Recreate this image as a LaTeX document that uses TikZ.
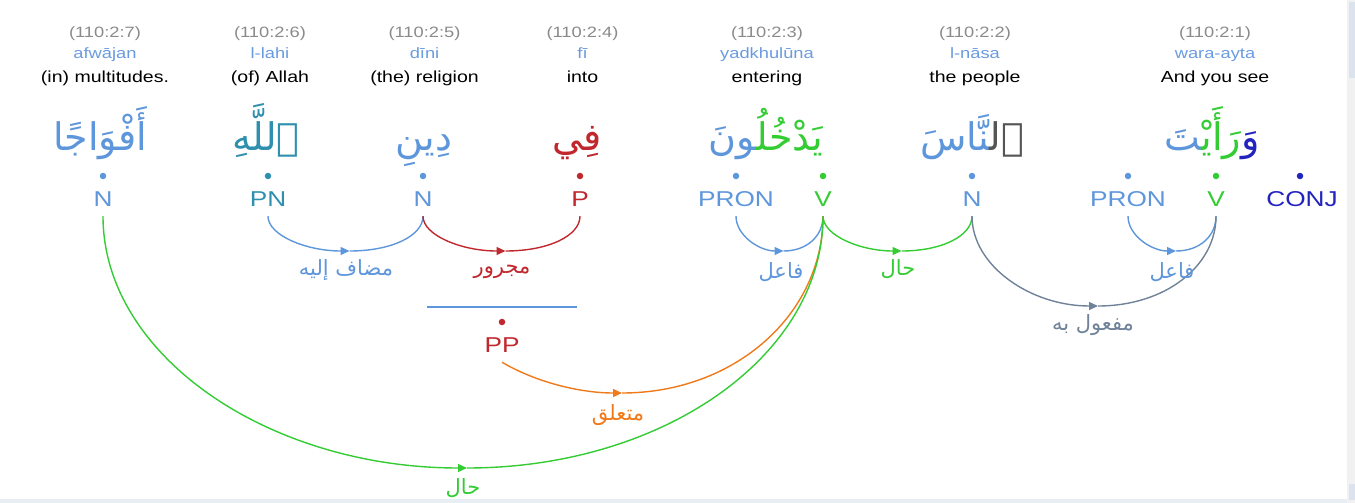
\documentclass[tikz,border=0pt]{standalone}
\usepackage{fontspec}
\setmainfont{Liberation Sans}[FakeStretch=1.22]
\newfontfamily\arabicfont[Script=Arabic]{DejaVu Sans}
\TeXXeTstate=1
\usetikzlibrary{arrows.meta}
\definecolor{locgrey}{HTML}{8A8A8A}
\definecolor{trblue}{HTML}{6A9BE0}
\definecolor{nblue}{HTML}{5E96DB}
\definecolor{pnteal}{HTML}{2E90AE}
\definecolor{pred}{HTML}{C0282E}
\definecolor{vgreen}{HTML}{33CC33}
\definecolor{conjblue}{HTML}{2323C0}
\definecolor{detgrey}{HTML}{555555}
\definecolor{slate}{HTML}{6F8299}
\definecolor{orng}{HTML}{F07A1A}
\definecolor{scrollbg}{HTML}{F1F1F1}
\definecolor{scrollthumb}{HTML}{DCE3EE}
\definecolor{bandbg}{HTML}{E9EEF4}
\newcommand{\zwj}{^^^^200d}
\begin{document}
\begin{tikzpicture}[x=1pt,y=-1pt,
  loc/.style={font=\fontsize{15}{17}\selectfont, text=locgrey, inner sep=0pt, anchor=base},
  tr/.style={font=\fontsize{15}{17}\selectfont, text=trblue, inner sep=0pt, anchor=base},
  en/.style={font=\fontsize{16}{18}\selectfont, text=black, inner sep=0pt, anchor=base},
  ar/.style={font=\arabicfont\fontsize{38}{44}\selectfont, inner sep=0pt, anchor=base},
  posl/.style={font=\fontsize{21.5}{24}\selectfont, inner sep=0pt, text height=15pt, text depth=10pt, anchor=base},
  dot/.style={circle, inner sep=0pt, minimum size=6.5pt},
  arc/.style={line width=1.4pt},
  tip/.style={-{Triangle[length=9pt,width=8pt]}},
  lab/.style={font=\arabicfont\fontsize{21}{24}\selectfont, inner sep=0pt},
]
\useasboundingbox (0,0) rectangle (1355,503);
% window chrome
\fill[bandbg] (0,499) rectangle (1347,503);
\fill[scrollbg] (1347,0) rectangle (1355,503);
\fill[scrollthumb] (1349,2) rectangle (1355,78);
\fill[scrollthumb] (1349,484) rectangle (1355,500);

% header texts
\node[loc] (l7) at (105,38) {(110:2:7)};
\node[loc] (l6) at (270,38) {(110:2:6)};
\node[loc] (l5) at (424.5,38) {(110:2:5)};
\node[loc] (l4) at (582.5,38) {(110:2:4)};
\node[loc] (l3) at (767,38) {(110:2:3)};
\node[loc] (l2) at (975,38) {(110:2:2)};
\node[loc] (l1) at (1215,38) {(110:2:1)};

\node[tr] (t7) at (105,59) {afwājan};
\node[tr] (t6) at (270,59) {l-lahi};
\node[tr] (t5) at (424.5,59) {dīni};
\node[tr] (t4) at (582.5,59) {fī};
\node[tr] (t3) at (767,59) {yadkhulūna};
\node[tr] (t2) at (975,59) {l-nāsa};
\node[tr] (t1) at (1215,59) {wara-ayta};

\node[en] (e7) at (105,82) {(in) multitudes.};
\node[en] (e6) at (270,82) {(of) Allah};
\node[en] (e5) at (424.5,82) {(the) religion};
\node[en] (e4) at (582.5,82) {into};
\node[en] (e3) at (767,82) {entering};
\node[en] (e2) at (975,82) {the people};
\node[en] (e1) at (1215,82) {And you see};

% Arabic words
\node[ar, text=nblue] (w7) at (100,150) {\beginR أَفْوَاجًا\endR};
\node[ar, text=pnteal] (w6) at (266,150) {\beginR ٱللَّهِ\endR};
\node[ar, text=nblue] (w5) at (424,150) {\beginR دِينِ\endR};
\node[ar, text=pred] (w4) at (577,150) {\beginR فِي\endR};
\node[ar] (w3) at (766,150) {\textcolor{nblue}{\zwj ونَ}\textcolor{vgreen}{يَدْخُلُ\zwj}};
\node[ar] (w2) at (972,150) {\textcolor{nblue}{\zwj نَّاسَ}\textcolor{detgrey}{ٱل\zwj}};
\node[ar] (w1) at (1212,150) {\textcolor{nblue}{\zwj تَ}\textcolor{vgreen}{رَأَيْ\zwj}\textcolor{conjblue}{وَ}};

% dots
\node[dot, fill=nblue] (d7) at (103,176) {};
\node[dot, fill=pnteal] (d6) at (268,176) {};
\node[dot, fill=nblue] (d5) at (423,176) {};
\node[dot, fill=pred] (d4) at (580,176) {};
\node[dot, fill=nblue] (d3p) at (736,176) {};
\node[dot, fill=vgreen] (d3v) at (823,176) {};
\node[dot, fill=nblue] (d2) at (972,176) {};
\node[dot, fill=nblue] (d1p) at (1128,176) {};
\node[dot, fill=vgreen] (d1v) at (1216,176) {};
\node[dot, fill=conjblue] (d1c) at (1300,176) {};

% POS labels
\node[posl, text=nblue] (n7) at (103,206) {N};
\node[posl, text=pnteal] (pn6) at (268,206) {PN};
\node[posl, text=nblue] (n5) at (423,206) {N};
\node[posl, text=pred] (p4) at (580,206) {P};
\node[posl, text=nblue] (pron3) at (736,206) {PRON};
\node[posl, text=vgreen] (v3) at (823,206) {V};
\node[posl, text=nblue] (n2) at (972,206) {N};
\node[posl, text=nblue] (pron1) at (1128,206) {PRON};
\node[posl, text=vgreen] (v1) at (1216,206) {V};
\node[posl, text=conjblue] (conj1) at (1302,206) {CONJ};

% PP
\draw[nblue, line width=1.2pt] (427,307) -- (577,307);
\node[dot, fill=pred] (dpp) at (502,322) {};
\node[posl, text=pred] (pp) at (502,352) {PP};

% arc bottoms
\coordinate (m1) at (349.5,251);
\coordinate (m2) at (505.5,251);
\coordinate (m3) at (783.5,251);
\coordinate (m4) at (901.5,251);
\coordinate (m5) at (1176,251);
\coordinate (m6) at (1098,306);
\coordinate (m7) at (622,393);
\coordinate (m8) at (467,468);

% mudaf ilayhi
\draw[arc, nblue, tip] (pn6.south) .. controls +(0,19.3) and +(-42.8,0) .. (m1);
\draw[arc, nblue] (m1) .. controls +(42.8,0) and +(0,19.3) .. (n5.south);
% majrur
\draw[arc, pred, tip] (n5.south) .. controls +(0,19.3) and +(-43.4,0) .. (m2);
\draw[arc, pred] (m2) .. controls +(43.4,0) and +(0,19.3) .. (p4.south);
% fa'il 1
\draw[arc, nblue, tip] (pron3.south) .. controls +(0,19.3) and +(-24,0) .. (m3);
\draw[arc, nblue] (m3) .. controls +(24,0) and +(0,19.3) .. (v3.south);
% hal
\draw[arc, vgreen, tip] (v3.south) .. controls +(0,19.3) and +(-41.1,0) .. (m4);
\draw[arc, vgreen] (m4) .. controls +(41.1,0) and +(0,19.3) .. (n2.south);
% fa'il 2
\draw[arc, nblue, tip] (pron1.south) .. controls +(0,19.3) and +(-24.3,0) .. (m5);
\draw[arc, nblue] (m5) .. controls +(24.3,0) and +(0,19.3) .. (v1.south);
% maf'ul bihi
\draw[arc, slate, tip] (n2.south) .. controls +(0,49.7) and +(-67.4,0) .. (m6);
\draw[arc, slate] (m6) .. controls +(67.4,0) and +(0,49.7) .. (v1.south);
% muta'alliq
\draw[arc, orng, tip] (pp.south) .. controls +(34.2,20.2) and +(-41.5,0) .. (m7);
\draw[arc, orng] (m7) .. controls +(113.2,0) and +(0,97.8) .. (v3.south);
% hal (big)
\draw[arc, vgreen, tip] (n7.south) .. controls +(0,139.2) and +(-198.8,0) .. (m8);
\draw[arc, vgreen] (m8) .. controls +(196.6,0) and +(0,139.2) .. (v3.south);

% relation labels
\node[lab, text=nblue] (r1) at (346,270) {\beginR مضاف إليه\endR};
\node[lab, text=pred] (r2) at (502,272) {\beginR مجرور\endR};
\node[lab, text=nblue] (r3) at (781,272) {\beginR فاعل\endR};
\node[lab, text=vgreen] (r4) at (898,269) {\beginR حال\endR};
\node[lab, text=nblue] (r5) at (1172,272) {\beginR فاعل\endR};
\node[lab, text=slate] (r6) at (1093,325) {\beginR مفعول به\endR};
\node[lab, text=orng] (r7) at (618,415) {\beginR متعلق\endR};
\node[lab, text=vgreen] (r8) at (463,488) {\beginR حال\endR};
\end{tikzpicture}
\end{document}
